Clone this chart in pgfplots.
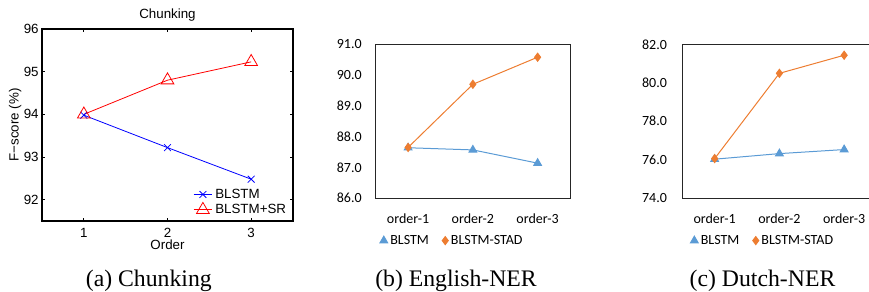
\documentclass[border=0pt]{standalone}
\usepackage{pgfplots}
\pgfplotsset{compat=1.18}
\usepackage{fontspec}
\setmainfont{Liberation Serif}
\newfontfamily\arial{Liberation Sans}
\newfontfamily\calibri{Carlito}
\definecolor{xlblue}{HTML}{5B9BD5}
\definecolor{xlorange}{HTML}{ED7D31}
\begin{document}
\begin{tikzpicture}
\path[use as bounding box] (0,0) rectangle (651.75pt,219pt);
% ---------------- (a) Chunking ----------------
\begin{axis}[
  at={(31.5pt,53.25pt)}, anchor=south west,
  scale only axis, width=188.25pt, height=144pt,
  xmin=0.5, xmax=3.5, ymin=91.5, ymax=96,
  xtick={1,2,3}, ytick={92,93,94,95,96},
  tick align=inside, major tick length=2pt,
  axis line style={line width=1.1pt, black}, tick style={line width=0.6pt, black},
  /pgf/number format/assume math mode=true,
  ticklabel style={font=\arial\fontsize{10}{12}\selectfont},
  yticklabel style={xshift=1pt},
  xticklabel style={yshift=-2pt},
  xlabel={Order}, ylabel={F−score (\%)},
  label style={font=\arial\fontsize{10}{12}\selectfont},
  xlabel style={yshift=5pt},
  ylabel style={yshift=-5pt},
  title={Chunking},
  title style={font=\arial\fontsize{10}{12}\selectfont, yshift=-3.5pt},
  legend style={draw=none, fill=none, at={(1,0)}, anchor=south east,
    font=\arial\fontsize{10}{12}\selectfont, row sep=-1pt, inner sep=1pt,
    xshift=-2pt, yshift=1pt},
  legend cell align=left,
  legend image code/.code={\draw[#1, mark repeat=2, mark phase=2] plot coordinates {(0pt,0pt)(7pt,0pt)(14pt,0pt)};},
]
\addplot[blue, line width=0.6pt, mark=x, mark size=3.6pt] coordinates {(1,93.98) (2,93.22) (3,92.48)};
\addlegendentry{BLSTM}
\addplot[red, line width=0.6pt, mark=triangle, mark size=5.5pt, mark options={line width=0.6pt}] coordinates {(1,94.0) (2,94.8) (3,95.23)};
\addlegendentry{BLSTM+SR}
\draw[line width=1.1pt, black] (rel axis cs:0,0) rectangle (rel axis cs:1,1);
\end{axis}
\node[anchor=base, font=\fontsize{17.8}{20}\selectfont] at (111.6pt,4pt) {(a) Chunking};
% ---------------- (b) English-NER ----------------
\begin{axis}[
  at={(281.8pt,70.3pt)}, anchor=south west,
  scale only axis, width=145.7pt, height=115.5pt,
  xmin=0.5, xmax=3.5, ymin=86, ymax=91,
  xtick={1,2,3}, xticklabels={order-1,order-2,order-3},
  ytick={86,87,88,89,90,91},
  /pgf/number format/fixed, /pgf/number format/fixed zerofill, /pgf/number format/precision=1,
  major tick length=0pt,
  axis line style={line width=0.7pt, black!85},
  /pgf/number format/assume math mode=true,
  ticklabel style={font=\calibri\fontsize{10.5}{12}\selectfont},
  yticklabel style={xshift=-7pt},
  xticklabel style={yshift=-8pt},
  legend style={draw=none, fill=none, at={(0,-0.275)}, anchor=west,
    font=\calibri\fontsize{10.5}{12}\selectfont, inner sep=0pt, xshift=3pt,
    /tikz/every even column/.append style={column sep=8pt}},
  legend columns=2,
  legend image code/.code={\draw[#1] plot coordinates {(2pt,0pt)};},
]
\addplot[xlblue, line width=0.75pt, mark=triangle*, mark size=3.3pt] coordinates {(1,87.64) (2,87.57) (3,87.14)};
\addlegendentry{BLSTM}
\addplot[xlorange, line width=0.75pt, mark=diamond*, mark size=3pt] coordinates {(1,87.65) (2,89.7) (3,90.58)};
\addlegendentry{BLSTM-STAD}
\end{axis}
\node[anchor=base, font=\fontsize{17.8}{20}\selectfont] at (342pt,4pt) {(b) English-NER};
% ---------------- (c) Dutch-NER ----------------
\begin{axis}[
  at={(511.7pt,70.3pt)}, anchor=south west,
  scale only axis, width=145.7pt, height=115.5pt,
  xmin=0.5, xmax=3.5, ymin=74, ymax=82,
  xtick={1,2,3}, xticklabels={order-1,order-2,order-3},
  ytick={74,76,78,80,82},
  /pgf/number format/fixed, /pgf/number format/fixed zerofill, /pgf/number format/precision=1,
  major tick length=0pt,
  axis line style={line width=0.7pt, black!85},
  /pgf/number format/assume math mode=true,
  ticklabel style={font=\calibri\fontsize{10.5}{12}\selectfont},
  yticklabel style={xshift=-8pt},
  xticklabel style={yshift=-8pt},
  legend style={draw=none, fill=none, at={(0,-0.275)}, anchor=west,
    font=\calibri\fontsize{10.5}{12}\selectfont, inner sep=0pt, xshift=6pt,
    /tikz/every even column/.append style={column sep=8pt}},
  legend columns=2,
  legend image code/.code={\draw[#1] plot coordinates {(2pt,0pt)};},
]
\addplot[xlblue, line width=0.75pt, mark=triangle*, mark size=3.3pt] coordinates {(1,76.03) (2,76.32) (3,76.53)};
\addlegendentry{BLSTM}
\addplot[xlorange, line width=0.75pt, mark=diamond*, mark size=3pt] coordinates {(1,76.06) (2,80.49) (3,81.43)};
\addlegendentry{BLSTM-STAD}
\end{axis}
\node[anchor=base, font=\fontsize{17.8}{20}\selectfont] at (571.9pt,4pt) {(c) Dutch-NER};
\end{tikzpicture}
\end{document}
